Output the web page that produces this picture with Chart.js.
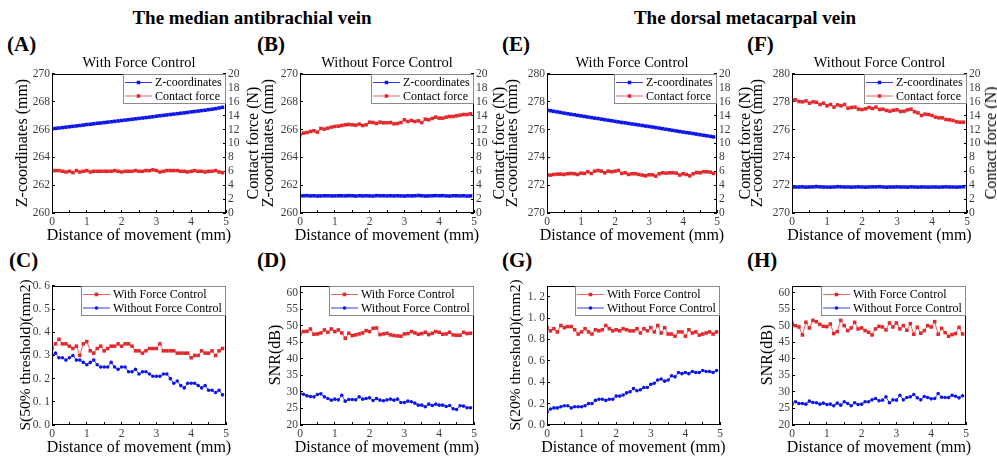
<!DOCTYPE html>
<html><head><meta charset="utf-8">
<script src="https://cdn.jsdelivr.net/npm/chart.js@4"></script>
<style>
body{margin:0;background:#fff;}
#wrap{position:relative;width:997px;height:457px;overflow:hidden;font-family:'Liberation Serif','Times New Roman',serif;background:#fff;}
canvas{position:absolute;}
.t{position:absolute;white-space:nowrap;color:#000;line-height:1;transform:translate(-50%,-50%);}
.r{transform:translate(-50%,-50%) rotate(-90deg);}
.lab{position:absolute;font-weight:bold;font-size:21px;line-height:1;transform:translateY(-50%);white-space:nowrap;}
.h{font-weight:bold;font-size:19px;}
</style></head>
<body><div id="wrap"></div>
<script>
// ---------- data ----------
const distance = [0,0.1,0.2,0.3,0.4,0.5,0.6,0.7,0.8,0.9,
  1,1.1,1.2,1.3,1.4,1.5,1.6,1.7,1.8,1.9,
  2,2.1,2.2,2.3,2.4,2.5,2.6,2.7,2.8,2.9,
  3,3.1,3.2,3.3,3.4,3.5,3.6,3.7,3.8,3.9,
  4,4.1,4.2,4.3,4.4,4.5,4.6,4.7,4.8,4.9];

// (A) median vein, with force control
const zA = [266.05,266.08,266.11,266.14,266.17,266.20,266.23,266.26,266.29,266.32,
  266.36,266.38,266.41,266.45,266.47,266.50,266.53,266.56,266.59,266.62,
  266.65,266.68,266.71,266.74,266.77,266.80,266.83,266.86,266.89,266.92,
  266.96,266.99,267.02,267.05,267.08,267.11,267.14,267.17,267.20,267.23,
  267.27,267.30,267.33,267.36,267.39,267.43,267.46,267.50,267.55,267.60];
const fA = [6.1,6.1,6.1,6.0,5.9,6.0,5.8,6.1,5.9,6.0,
  6.1,5.9,6.0,6.0,6.0,6.0,6.0,6.0,6.1,6.0,
  5.9,6.0,6.0,6.0,6.1,6.0,6.0,6.1,6.1,6.2,
  6.1,5.9,6.0,6.1,6.1,6.1,6.1,6.0,6.0,5.9,
  6.0,6.1,6.0,6.0,5.9,6.0,6.0,6.1,5.9,5.8];
// (B) median vein, without force control
const zB = [261.22,261.24,261.25,261.23,261.24,261.22,261.23,261.24,261.24,261.23,
  261.23,261.24,261.24,261.23,261.25,261.24,261.22,261.24,261.23,261.24,
  261.23,261.22,261.25,261.24,261.24,261.23,261.24,261.23,261.24,261.23,
  261.22,261.24,261.23,261.24,261.26,261.24,261.22,261.23,261.24,261.25,
  261.24,261.25,261.23,261.22,261.24,261.24,261.23,261.24,261.22,261.23];
const fB = [11.24,11.48,11.58,11.72,11.82,11.63,12.15,12.06,12.20,12.34,
  12.44,12.49,12.58,12.68,12.73,12.68,12.63,12.78,12.58,12.68,
  13.06,13.01,12.87,13.06,12.97,12.97,13.01,12.82,12.87,13.01,
  13.40,13.16,13.30,13.16,13.25,13.01,13.49,13.40,13.59,13.78,
  13.64,13.64,13.78,13.88,13.88,13.97,14.07,14.16,14.16,14.26];
// (E) dorsal vein, with force control
const zE = [277.40,277.35,277.31,277.27,277.23,277.18,277.14,277.10,277.06,277.02,
  276.98,276.94,276.90,276.86,276.82,276.79,276.75,276.71,276.67,276.63,
  276.59,276.55,276.51,276.48,276.44,276.40,276.37,276.33,276.29,276.25,
  276.22,276.18,276.14,276.10,276.06,276.02,275.98,275.94,275.90,275.86,
  275.82,275.78,275.75,275.71,275.67,275.63,275.59,275.55,275.51,275.47];
const fE = [5.45,5.45,5.54,5.59,5.59,5.54,5.64,5.69,5.64,5.54,
  5.73,5.69,5.93,5.69,6.02,6.12,6.02,5.78,6.02,5.93,
  6.02,6.12,5.69,5.78,5.54,5.64,5.64,5.54,5.45,5.35,
  5.49,5.49,5.30,5.64,5.78,5.73,5.78,5.78,5.73,5.45,
  5.64,5.54,5.35,5.64,5.83,5.78,5.93,5.93,5.88,5.69];
// (F) dorsal vein, without force control
const zF = [271.85,271.87,271.87,271.88,271.86,271.87,271.88,271.90,271.88,271.87,
  271.86,271.86,271.87,271.89,271.88,271.87,271.87,271.86,271.87,271.88,
  271.87,271.86,271.87,271.88,271.88,271.89,271.87,271.86,271.87,271.87,
  271.88,271.87,271.87,271.86,271.88,271.87,271.86,271.87,271.87,271.86,
  271.87,271.87,271.86,271.87,271.88,271.87,271.87,271.86,271.87,271.89];
const fF = [16.27,16.27,16.03,15.98,16.12,15.79,15.98,15.93,15.60,15.79,
  15.41,15.60,15.22,15.55,15.41,15.60,15.07,15.17,15.22,14.93,
  14.88,14.98,15.17,15.02,15.22,14.88,14.93,14.74,14.64,14.78,
  14.83,14.59,14.64,14.83,14.93,14.55,14.40,14.02,14.21,14.16,
  14.02,13.78,13.68,13.68,13.44,13.40,13.30,13.11,13.06,13.06];
// (C) S(50% threshold)
const sWithC = [0.33,0.35,0.37,0.35,0.35,0.34,0.33,0.34,0.30,0.35,
  0.36,0.32,0.31,0.33,0.34,0.32,0.33,0.34,0.34,0.35,
  0.34,0.35,0.35,0.34,0.32,0.32,0.31,0.32,0.33,0.33,
  0.33,0.35,0.32,0.32,0.32,0.32,0.31,0.31,0.31,0.31,
  0.29,0.30,0.30,0.32,0.31,0.31,0.32,0.30,0.32,0.33];
const sWithoutC = [0.30,0.31,0.29,0.29,0.28,0.29,0.30,0.28,0.28,0.27,
  0.26,0.27,0.28,0.26,0.25,0.25,0.25,0.27,0.25,0.24,
  0.25,0.25,0.23,0.23,0.24,0.22,0.23,0.23,0.22,0.21,
  0.21,0.21,0.22,0.22,0.20,0.18,0.19,0.17,0.16,0.18,
  0.18,0.18,0.17,0.16,0.17,0.15,0.15,0.14,0.15,0.13];
// (D) SNR median vein
const snrWithD = [47.5,48.2,48.3,49.0,47.4,47.5,47.8,48.7,48.0,49.0,
  48.2,48.7,47.8,46.2,47.7,47.0,47.2,47.5,47.8,48.5,
  48.2,49.2,49.3,47.3,47.5,47.7,47.2,47.0,46.9,46.8,
  47.5,47.6,48.2,47.8,47.4,47.6,48.0,47.3,47.7,48.2,
  48.0,47.4,47.5,48.0,47.2,47.1,47.1,48.0,47.6,47.7];
const snrWithoutD = [29.5,29.3,28.8,28.6,28.5,29.2,29.4,28.5,28.0,27.5,
  27.8,27.6,29.0,27.2,27.7,27.7,27.6,28.5,27.8,28.0,
  28.2,27.4,28.0,27.5,27.3,27.6,27.8,27.5,27.8,26.8,
  26.8,27.2,27.0,26.6,26.0,26.0,25.5,26.3,25.9,26.3,
  26.0,26.0,25.6,25.9,24.9,24.7,25.8,25.7,25.2,25.2];
// (G) S(20% threshold)
const sWithG = [0.91,0.88,0.90,0.87,0.93,0.91,0.92,0.92,0.89,0.85,
  0.87,0.90,0.87,0.85,0.89,0.88,0.89,0.93,0.90,0.88,
  0.89,0.88,0.90,0.89,0.88,0.88,0.90,0.86,0.90,0.88,
  0.91,0.87,0.93,0.86,0.91,0.85,0.85,0.83,0.87,0.87,
  0.83,0.89,0.86,0.87,0.84,0.85,0.86,0.87,0.85,0.87];
const sWithoutG = [0.12,0.15,0.16,0.16,0.17,0.18,0.18,0.16,0.17,0.17,
  0.17,0.18,0.20,0.20,0.23,0.24,0.24,0.23,0.24,0.24,
  0.27,0.27,0.28,0.30,0.31,0.34,0.32,0.33,0.35,0.35,
  0.38,0.39,0.42,0.43,0.41,0.42,0.46,0.45,0.49,0.48,
  0.49,0.48,0.50,0.49,0.49,0.51,0.50,0.50,0.49,0.51];
// (H) SNR dorsal vein
const snrWithH = [50.8,50.0,49.6,47.2,51.0,49.3,51.6,51.2,50.4,49.8,
  49.7,50.5,47.6,48.2,51.6,50.0,48.5,49.3,51.0,49.0,
  49.3,48.5,48.0,47.2,49.0,49.8,49.6,48.7,50.8,49.6,
  50.8,49.0,50.0,48.6,50.6,47.4,49.5,47.7,48.5,50.0,
  49.6,51.2,47.4,49.2,47.9,46.8,47.3,47.6,49.5,47.5];
const snrWithoutH = [26.3,27.0,26.5,26.5,26.3,27.2,26.8,26.7,26.3,26.6,
  26.2,26.3,25.8,26.6,26.0,27.0,26.5,25.8,26.7,26.2,
  26.3,27.0,27.0,27.6,28.0,27.3,27.5,28.5,26.7,27.6,
  27.5,29.0,27.6,28.3,28.5,29.2,28.2,27.6,28.6,28.3,
  27.9,28.0,29.5,28.4,28.3,28.3,29.0,28.7,28.2,28.8];

const xRange = [0, 5];
const zRangeMedian = [260, 270];
const zRangeDorsal = [270, 280];
const forceRange = [0, 20];
const s50Range = [0, 0.6];
const s20Range = [0, 1.3];
const snrRange = [20, 62];

// ---------- styling ----------
const BLUE = 'rgb(12,22,232)', BLUE_L = 'rgb(50,60,238)';
const RED = 'rgb(226,40,44)', RED_L = 'rgb(234,100,100)';
const SERIF = "'Liberation Serif','Times New Roman',serif";
const tickFont = {family: SERIF, size: 11.5};
const TICKC = '#3c3c3c';
const wrap = document.getElementById('wrap');

const framePlugin = {
  id: 'frameLegend',
  afterDatasetsDraw(chart) {
    const {ctx, chartArea: a} = chart;
    ctx.save();
    ctx.strokeStyle = '#000'; ctx.lineWidth = 1;
    ctx.strokeRect(Math.round(a.left) + 0.5, Math.round(a.top) + 0.5,
      Math.round(a.right - a.left) - 1, Math.round(a.bottom - a.top) - 1);
    ctx.restore();
  },
  afterDraw(chart) {
    const {ctx, chartArea: a} = chart;
    const ds = chart.data.datasets;
    ctx.save();
    ctx.font = "12px " + SERIF;
    const tw = Math.max(...ds.map(d => ctx.measureText(d.label).width));
    const w = Math.round(2 + 27 + 3 + tw + 4), h = 30;
    const x0 = Math.round(a.right) - w, y0 = Math.round(a.top);
    ctx.fillStyle = '#fff'; ctx.fillRect(x0, y0, w, h);
    ctx.strokeStyle = '#8a8a8a'; ctx.lineWidth = 1;
    ctx.strokeRect(x0 + 0.5, y0 + 0.5, w - 1, h - 1);
    ds.forEach((d, i) => {
      const y = y0 + 8.5 + i * 13.5;
      ctx.strokeStyle = d.borderColor; ctx.lineWidth = 1;
      ctx.beginPath(); ctx.moveTo(x0 + 2, y); ctx.lineTo(x0 + 29, y); ctx.stroke();
      ctx.fillStyle = d.pointBackgroundColor;
      if (d.pointStyle === 'circle') { ctx.beginPath(); ctx.arc(x0 + 15.5, y, d.pointRadius, 0, Math.PI * 2); ctx.fill(); }
      else { const s = d.pointRadius * Math.SQRT1_2; ctx.fillRect(x0 + 15.5 - s, y - s, 2 * s, 2 * s); }
      ctx.fillStyle = '#000'; ctx.textBaseline = 'middle'; ctx.textAlign = 'left';
      ctx.fillText(d.label, x0 + 32, y + 0.5);
    });
    ctx.restore();
  }
};

function series(label, ys, color, lineColor, style, axis) {
  return {label, data: distance.map((x, i) => ({x, y: ys[i]})), borderColor: lineColor,
    backgroundColor: color, pointBackgroundColor: color, pointBorderWidth: 0,
    pointStyle: style, pointRadius: style === 'circle' ? 1.8 : 2.5, borderWidth: 1,
    yAxisID: axis || 'y', tension: 0};
}

function yScale(pos, range, step, fmt, fit) {
  return {type: 'linear', position: pos, min: range[0], max: range[1],
    ticks: {stepSize: step, includeBounds: false, autoSkip: false, font: tickFont, color: TICKC, padding: 5,
      callback: fmt || (v => String(v))},
    grid: {drawOnChartArea: false, tickLength: -3, color: '#000', lineWidth: 1},
    border: {display: false}, afterFit: fit};
}

function panel(plot, datasets, left, right) {
  const cl = plot[0] - 36, ct = plot[1] - 10;
  const cr = plot[2] + (right ? 26 : 10), cb = plot[3] + 18;
  const c = document.createElement('canvas');
  c.width = cr - cl; c.height = cb - ct;
  c.style.left = cl + 'px'; c.style.top = ct + 'px';
  wrap.appendChild(c);
  const scales = {
    x: {type: 'linear', min: xRange[0], max: xRange[1],
      ticks: {stepSize: 0.5, autoSkip: false, maxRotation: 0, font: tickFont, color: TICKC, padding: 5,
        callback: v => Number.isInteger(v) ? String(v) : ''},
      grid: {drawOnChartArea: false, tickLength: -3, color: '#000', lineWidth: 1},
      border: {display: false}, afterFit: s => { s.height = cb - plot[3]; }},
    y: yScale('left', left.range, left.step, left.fmt, s => { s.width = plot[0] - cl; })
  };
  if (right) scales.y2 = yScale('right', right.range, right.step, right.fmt, s => { s.width = cr - plot[2]; });
  new Chart(c, {
    type: 'line',
    data: {datasets},
    options: {
      responsive: false, animation: false, devicePixelRatio: 1,
      layout: {padding: {top: plot[1] - ct, left: 0, bottom: 0, right: right ? 0 : cr - plot[2]}},
      plugins: {legend: {display: false}, tooltip: {enabled: false}, title: {display: false}},
      scales
    },
    plugins: [framePlugin]
  });
}

const dec = v => v.toFixed(1).replace('.', '. ');

const PA = [52, 72, 226, 213], PB = [300, 72, 474, 213], PE = [547, 72, 717, 213], PF = [792, 72, 967, 213];
const PC = [52, 284, 226, 425], PD = [300, 284, 474, 425], PG = [547, 284, 720, 425], PH = [792, 284, 966, 425];

panel(PA, [series('Z-coordinates', zA, BLUE, BLUE_L, 'rect'), series('Contact force', fA, RED, RED_L, 'rect', 'y2')],
  {range: zRangeMedian, step: 2}, {range: forceRange, step: 2});
panel(PB, [series('Z-coordinates', zB, BLUE, BLUE_L, 'rect'), series('Contact force', fB, RED, RED_L, 'rect', 'y2')],
  {range: zRangeMedian, step: 2}, {range: forceRange, step: 2});
panel(PE, [series('Z-coordinates', zE, BLUE, BLUE_L, 'rect'), series('Contact force', fE, RED, RED_L, 'rect', 'y2')],
  {range: zRangeDorsal, step: 2}, {range: forceRange, step: 2});
panel(PF, [series('Z-coordinates', zF, BLUE, BLUE_L, 'rect'), series('Contact force', fF, RED, RED_L, 'rect', 'y2')],
  {range: zRangeDorsal, step: 2}, {range: forceRange, step: 2});

panel(PC, [series('With Force Control', sWithC, RED, RED_L, 'rect'), series('Without Force Control', sWithoutC, BLUE, BLUE_L, 'circle')],
  {range: s50Range, step: 0.1, fmt: dec});
panel(PD, [series('With Force Control', snrWithD, RED, RED_L, 'rect'), series('Without Force Control', snrWithoutD, BLUE, BLUE_L, 'circle')],
  {range: snrRange, step: 5});
panel(PG, [series('With Force Control', sWithG, RED, RED_L, 'rect'), series('Without Force Control', sWithoutG, BLUE, BLUE_L, 'circle')],
  {range: s20Range, step: 0.2, fmt: dec});
panel(PH, [series('With Force Control', snrWithH, RED, RED_L, 'rect'), series('Without Force Control', snrWithoutH, BLUE, BLUE_L, 'circle')],
  {range: snrRange, step: 5});

// ---------- texts ----------
function txt(s, x, y, size, cls) {
  const d = document.createElement('div');
  d.className = 't ' + (cls || '');
  d.textContent = s; d.style.left = x + 'px'; d.style.top = y + 'px'; d.style.fontSize = size + 'px';
  wrap.appendChild(d);
}
function lab(s, x, y) {
  const d = document.createElement('div');
  d.className = 'lab'; d.textContent = s; d.style.left = x + 'px'; d.style.top = y + 'px';
  wrap.appendChild(d);
}
txt('The median antibrachial vein', 252, 17, 19, 'h');
txt('The dorsal metacarpal vein', 745, 17, 19, 'h');
lab('(A)', 7, 44); lab('(B)', 257, 44); lab('(E)', 502, 44); lab('(F)', 747, 44);
lab('(C)', 9, 260); lab('(D)', 257, 260); lab('(G)', 502, 260); lab('(H)', 747, 260);

const mid = p => (p[0] + p[2]) / 2, vmid = p => (p[1] + p[3]) / 2;
txt('With Force Control', mid(PA), 62, 14.5);
txt('Without Force Control', mid(PB), 62, 14.5);
txt('With Force Control', mid(PE), 62, 14.5);
txt('Without Force Control', mid(PF), 62, 14.5);

[[PA, 22], [PB, 268], [PE, 512], [PF, 757]].forEach(([p, x]) => txt('Z-coordinates (mm)', x, vmid(p), 16, 'r'));
[[PA, 253], [PB, 499], [PE, 745], [PF, 991]].forEach(([p, x]) => txt('Contact force (N)', x, vmid(p), 16, 'r'));
txt('S(50% threshold)(mm2)', 25, vmid(PC), 15.5, 'r');
txt('SNR(dB)', 275, vmid(PD), 16, 'r');
txt('S(20% threshold)(mm2)', 515, vmid(PG), 15.5, 'r');
txt('SNR(dB)', 767, vmid(PH), 16, 'r');
[PA, PB, PE, PF].forEach(p => txt('Distance of movement (mm)', mid(p), 235, 16));
[PC, PD, PG, PH].forEach(p => txt('Distance of movement (mm)', mid(p), 447, 16));
</script>
</body></html>
